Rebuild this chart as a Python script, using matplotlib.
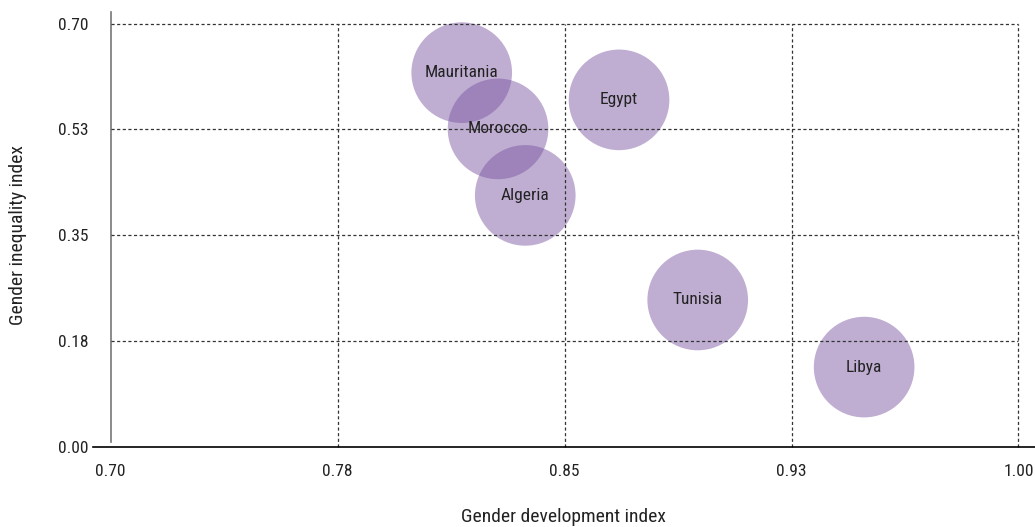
import matplotlib.pyplot as plt

countries = ["Mauritania", "Morocco", "Algeria", "Egypt", "Tunisia", "Libya"]
gdi = [0.816, 0.828, 0.837, 0.868, 0.894, 0.949]
gii = [0.619, 0.526, 0.416, 0.574, 0.243, 0.132]

xticks = [0.70, 0.775, 0.85, 0.925, 1.00]
xtick_labels = ["0.70", "0.78", "0.85", "0.93", "1.00"]
yticks = [0.0, 0.175, 0.35, 0.525, 0.70]
ytick_labels = ["0.00", "0.18", "0.35", "0.53", "0.70"]

plt.rcParams['font.family'] = ['Roboto Condensed', 'Roboto', 'DejaVu Sans']

fig = plt.figure(figsize=(10.35, 5.27), dpi=100)
ax = fig.add_axes([0.107, 0.152, 0.877, 0.826])
ax.set_xlim(0.70, 1.00)
ax.set_ylim(0, 0.72)

ax.scatter(gdi, gii, s=5250, color=(119/255, 83/255, 161/255), alpha=0.47,
           edgecolors='none', zorder=2)
for name, x, y in zip(countries, gdi, gii):
    ax.text(x, y, name, ha='center', va='center', fontsize=12.5, color='#222222', zorder=4)

# dotted grid on top of the bubbles
for yv in yticks[1:]:
    ax.plot([0.70, 1.00], [yv, yv], color='#333333', lw=0.9, ls=(0, (2.5, 2)),
            zorder=3, clip_on=False)
for xv in xticks[1:]:
    ax.plot([xv, xv], [0, 0.70], color='#333333', lw=0.9, ls=(0, (2.5, 2)),
            zorder=3, clip_on=False)

for s in ['top', 'right', 'bottom']:
    ax.spines[s].set_visible(False)
ax.spines['left'].set_color('#777777')
ax.spines['left'].set_linewidth(1.2)
ax.spines['left'].set_bounds(0.008, 0.72)
ax.axhline(0, xmin=-0.019, xmax=1.02, color='black', lw=1.2, clip_on=False, zorder=5)

ax.set_xticks(xticks)
ax.set_xticklabels(xtick_labels)
ax.set_yticks(yticks)
ax.set_yticklabels(ytick_labels)
ax.tick_params(axis='both', length=0, labelsize=12.5, colors='#222222')
ax.tick_params(axis='x', pad=12)
ax.tick_params(axis='y', pad=16)

fig.text(563 / 1035, 1 - 517 / 527, "Gender development index", fontsize=14,
         color='#222222', ha='center', va='center')
fig.text(18 / 1035, 1 - 235 / 527, "Gender inequality index", fontsize=14,
         color='#222222', ha='center', va='center', rotation=90)

fig.savefig("out.png", dpi=100)
